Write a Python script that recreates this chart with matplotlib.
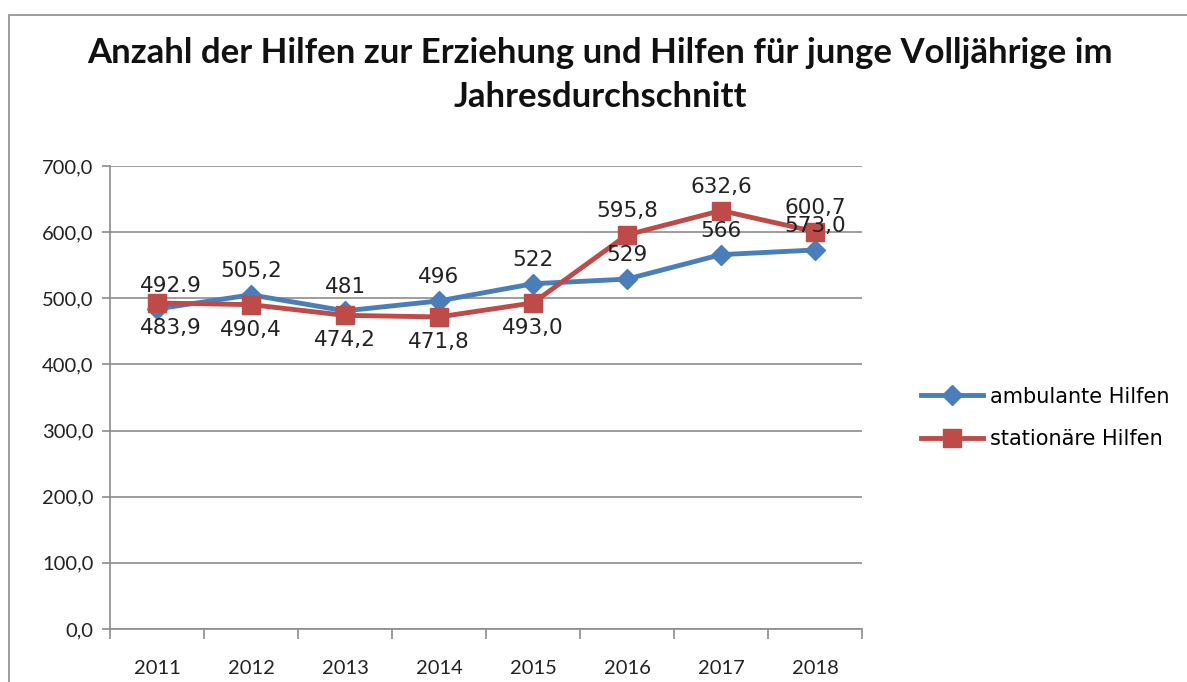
import matplotlib
matplotlib.use("Agg")
import matplotlib.pyplot as plt
from matplotlib.patches import Rectangle
from matplotlib.lines import Line2D

years = ["2011", "2012", "2013", "2014", "2015", "2016", "2017", "2018"]
ambulant = [483.9, 505.2, 481, 496, 522, 529, 566, 573.0]
stationaer = [492.9, 490.4, 474.2, 471.8, 493.0, 595.8, 632.6, 600.7]
ambulant_labels = ["483,9", "505,2", "481", "496", "522", "529", "566", "573,0"]
stationaer_labels = ["492.9", "490,4", "474,2", "471,8", "493,0", "595,8", "632,6", "600,7"]
yticks = [0, 100, 200, 300, 400, 500, 600, 700]
ytick_labels = ["0,0", "100,0", "200,0", "300,0", "400,0", "500,0", "600,0", "700,0"]
title = "Anzahl der Hilfen zur Erziehung und Hilfen für junge Volljährige im\nJahresdurchschnitt"

BLUE = "#4A7EBB"
RED = "#BE4B48"
W, H = 1187, 682

plt.rcParams['font.family'] = ['DejaVu Sans']
fig = plt.figure(figsize=(W / 100, H / 100), dpi=100)

# outer chart frame
fig.patches.append(Rectangle((9 / W, -0.1), 1.2, 1 - 15 / H + 0.1, transform=fig.transFigure,
                             fill=False, edgecolor="#8c8c8c", linewidth=1.2))

ax = fig.add_axes([110 / W, 53 / H, 752 / W, 463 / H])
x = list(range(len(years)))

ax.plot(x, ambulant, color=BLUE, lw=3.5, marker="D", markersize=10, zorder=3)
ax.plot(x, stationaer, color=RED, lw=3.5, marker="s", markersize=13, zorder=4)

# data labels: offsets in points (up positive)
amb_off = [-14, 17, 17, 17, 17, 17, 17, 17]
sta_off = [12, -18, -18, -18, -18, 17, 17, 17]
x_shift = [10, 0, 0, 0, 0, 0, 0, 0]
for i in x:
    ax.annotate(ambulant_labels[i], (i, ambulant[i]), xytext=(x_shift[i], amb_off[i]), textcoords="offset points",
                ha="center", va="center", fontsize=15.5, color="#222222", zorder=6)
    ax.annotate(stationaer_labels[i], (i, stationaer[i]), xytext=(x_shift[i], sta_off[i]), textcoords="offset points",
                ha="center", va="center", fontsize=15.5, color="#222222", zorder=6)

ax.set_xlim(-0.5, len(years) - 0.5)
ax.set_ylim(0, 700)
ax.set_yticks(yticks)
ax.set_yticklabels(ytick_labels, fontsize=14.5, family="Lato", color="#222222")
ax.set_xticks(x)
ax.set_xticklabels(years, fontsize=14.5, family="Lato", color="#222222")
ax.set_xticks([i - 0.5 for i in range(len(years) + 1)], minor=True)
ax.tick_params(axis="x", which="major", length=0, pad=22)
ax.tick_params(axis="x", which="minor", length=7, color="#8c8c8c", width=1.2, direction="out")
ax.tick_params(axis="y", length=6, color="#8c8c8c", width=1.2, pad=6)
ax.grid(axis="y", color="#8c8c8c", lw=1.2)
ax.set_axisbelow(True)
for s in ["top", "right"]:
    ax.spines[s].set_visible(False)
for s in ["left", "bottom"]:
    ax.spines[s].set_color("#8c8c8c")
    ax.spines[s].set_linewidth(1.2)

fig.text(600 / W, 1 - 75 / H, title, ha="center", va="center", fontsize=25, fontweight="bold",
         family="Lato", linespacing=1.45, color="#111111")

handles = [Line2D([], [], color=BLUE, lw=3.5, marker="D", markersize=10),
           Line2D([], [], color=RED, lw=3.5, marker="s", markersize=13)]
fig.legend(handles, ["ambulante Hilfen", "stationäre Hilfen"], loc="center left",
           bbox_to_anchor=(902 / W, 1 - 418 / H), frameon=False,
           handlelength=3.0, handletextpad=0.3, labelspacing=1.1,
           prop={"family": "DejaVu Sans", "size": 15})

fig.savefig("out.png", dpi=100)
